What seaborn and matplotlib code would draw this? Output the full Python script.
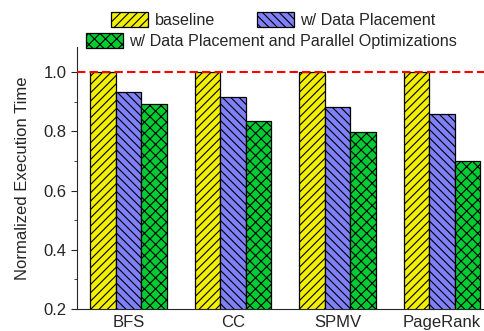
import pandas as pd
import numpy as np
import matplotlib
matplotlib.use("Agg")
import matplotlib.pyplot as plt
import seaborn as sns
from matplotlib.patches import Patch
from matplotlib.ticker import MultipleLocator

apps = ["BFS", "CC", "SPMV", "PageRank"]
configs = ["baseline", "w/ Data Placement",
           "w/ Data Placement and Parallel Optimizations"]
baseline = [1.0, 1.0, 1.0, 1.0]
placement = [0.933, 0.917, 0.883, 0.858]
parallel = [0.893, 0.834, 0.797, 0.699]

colors = ["#f2f000", "#8080f8", "#00cc33"]
hatches = ["////", "\\\\\\\\", "xxx"]

df = pd.DataFrame({
    "app": apps * 3,
    "config": np.repeat(configs, len(apps)),
    "value": baseline + placement + parallel,
})

sns.set_style("ticks")
plt.rcParams["font.family"] = ["Liberation Sans", "DejaVu Sans"]
plt.rcParams["hatch.linewidth"] = 0.8

fig = plt.figure(figsize=(4.85, 3.31), dpi=100)
ax = fig.add_axes([0.159, 0.0665, 0.845, 0.792])

sns.barplot(data=df, x="app", y="value", hue="config", hue_order=configs,
            palette=colors, saturation=1, width=0.73, ax=ax, legend=False,
            edgecolor="black", linewidth=0.9)

for cont, h in zip(ax.containers, hatches):
    for bar in cont:
        bar.set_hatch(h)

ax.axhline(1.0, color="red", linestyle="--", linewidth=1.5, dashes=(4, 2), zorder=5)

ax.set_ylim(0.2, 1.085)
ax.set_xlim(-0.49, 3.43)
ax.yaxis.set_major_locator(MultipleLocator(0.2))
ax.yaxis.set_minor_locator(MultipleLocator(0.1))
ax.tick_params(axis="y", which="major", length=4, labelsize=12, direction="out")
ax.tick_params(axis="y", which="minor", length=2.5, direction="out")
ax.tick_params(axis="x", length=0, labelsize=12, pad=4)
ax.set_xlabel("")
ax.set_ylabel("Normalized Execution Time", fontsize=12, labelpad=10)
sns.despine(ax=ax, top=True, right=True)

handles = [Patch(facecolor=c, edgecolor="black", hatch=h, linewidth=0.9)
           for c, h in zip(colors, hatches)]
leg1 = fig.legend(handles[:2], configs[:2], ncol=2, loc="center",
                  bbox_to_anchor=(0.564, 0.94), frameon=False, fontsize=11.6,
                  handlelength=2.3, handleheight=1.1, columnspacing=2.6,
                  handletextpad=0.4, borderaxespad=0)
leg2 = fig.legend(handles[2:], configs[2:], loc="center",
                  bbox_to_anchor=(0.56, 0.876), frameon=False, fontsize=11.6,
                  handlelength=2.3, handleheight=1.1, handletextpad=0.4,
                  borderaxespad=0)

fig.savefig("out.png", dpi=100)
